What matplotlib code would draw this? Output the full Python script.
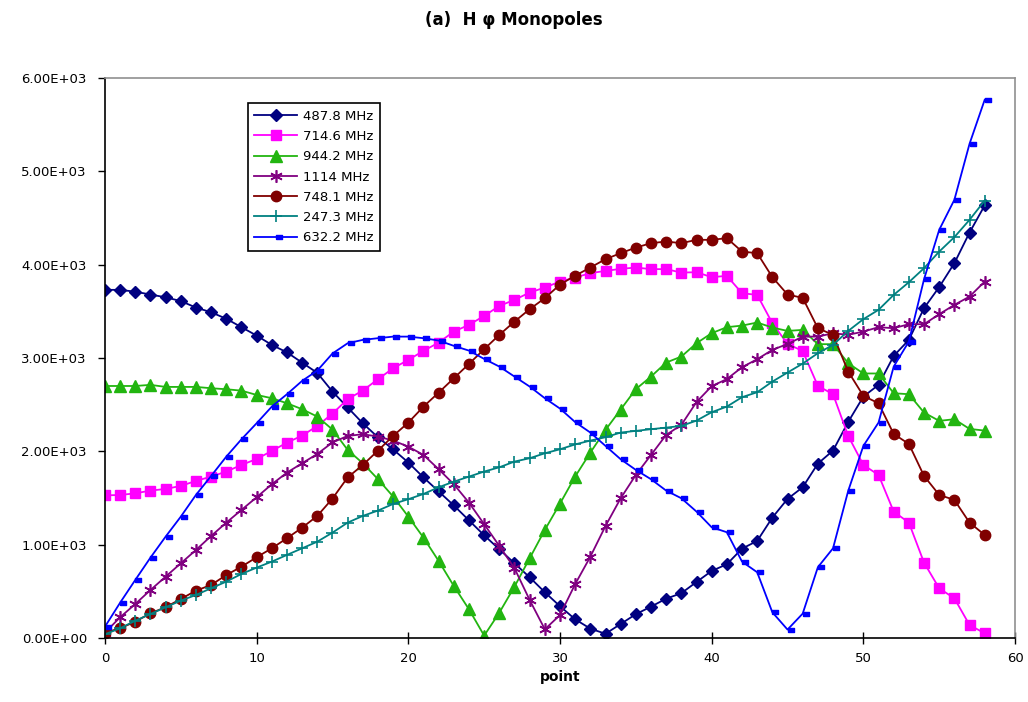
import matplotlib
matplotlib.use('Agg')
from matplotlib import pyplot as plt
from matplotlib.ticker import FuncFormatter, MultipleLocator
import numpy as np

# point index along the scan
points = list(range(59))

f487 = [3730, 3730, 3710, 3680, 3650, 3610, 3540, 3490, 3420, 3330,
        3240, 3140, 3060, 2950, 2840, 2640, 2470, 2300, 2150, 2020,
        1880, 1720, 1570, 1420, 1260, 1100, 950, 800, 650, 490,
        340, 200, 100, 45, 150, 255, 336, 421, 480, 600,
        718, 790, 957, 1040, 1290, 1490, 1615, 1868, 2008, 2315,
        2586, 2712, 3022, 3194, 3534, 3760, 4016, 4344, 4635]
f714 = [1528, 1532, 1550, 1579, 1597, 1629, 1683, 1729, 1783, 1854,
        1918, 2004, 2093, 2168, 2272, 2404, 2560, 2651, 2773, 2890,
        2980, 3076, 3165, 3283, 3355, 3451, 3558, 3623, 3701, 3755,
        3819, 3862, 3909, 3933, 3955, 3969, 3952, 3952, 3915, 3919,
        3866, 3880, 3694, 3676, 3373, 3151, 3074, 2701, 2612, 2165,
        1854, 1747, 1354, 1236, 807, 532, 425, 139, 50]
f944 = [2700, 2700, 2700, 2712, 2690, 2690, 2690, 2676, 2665, 2650,
        2604, 2569, 2515, 2451, 2372, 2233, 2015, 1872, 1701, 1515,
        1300, 1075, 825, 557, 307, 25, 271, 550, 854, 1158,
        1440, 1730, 1986, 2229, 2448, 2666, 2801, 2951, 3015, 3158,
        3266, 3330, 3347, 3380, 3326, 3290, 3301, 3148, 3148, 2944,
        2834, 2834, 2622, 2612, 2415, 2326, 2344, 2240, 2222]
f1114 = [57, 222, 364, 514, 657, 800, 943, 1093, 1236, 1372,
         1508, 1647, 1772, 1872, 1972, 2095, 2165, 2183, 2158, 2115,
         2050, 1961, 1808, 1647, 1450, 1219, 986, 747, 407, 93,
         246, 577, 871, 1200, 1497, 1747, 1961, 2176, 2283, 2528,
         2698, 2774, 2901, 2987, 3087, 3150, 3229, 3229, 3265, 3248,
         3283, 3330, 3319, 3362, 3362, 3469, 3569, 3658, 3819]
f748 = [57, 104, 175, 265, 329, 418, 507, 568, 675, 764,
        865, 961, 1069, 1182, 1308, 1494, 1720, 1854, 2008, 2165,
        2308, 2479, 2629, 2783, 2937, 3094, 3248, 3390, 3523, 3641,
        3787, 3882, 3969, 4059, 4123, 4183, 4230, 4248, 4230, 4266,
        4266, 4284, 4140, 4123, 3866, 3680, 3644, 3319, 3248, 2855,
        2594, 2515, 2186, 2079, 1736, 1533, 1479, 1236, 1104]
f247 = [40, 104, 185, 257, 329, 400, 461, 533, 604, 686,
        754, 818, 890, 961, 1032, 1129, 1236, 1308, 1365, 1436,
        1487, 1543, 1615, 1675, 1729, 1783, 1829, 1890, 1926, 1979,
        2022, 2074, 2115, 2151, 2201, 2219, 2237, 2254, 2272, 2329,
        2419, 2479, 2580, 2633, 2747, 2844, 2940, 3051, 3140, 3290,
        3416, 3516, 3676, 3812, 3962, 4140, 4295, 4480, 4687]
f632 = [121, 378, 622, 861, 1086, 1300, 1533, 1736, 1943, 2129,
        2301, 2479, 2612, 2755, 2865, 3048, 3158, 3194, 3212, 3229,
        3229, 3212, 3187, 3130, 3079, 2990, 2908, 2801, 2694, 2569,
        2458, 2313, 2201, 2058, 1915, 1801, 1701, 1579, 1497, 1354,
        1186, 1133, 818, 704, 275, 90, 261, 758, 961, 1576,
        2058, 2308, 2908, 3176, 3844, 4373, 4695, 5295, 5767]

labels = ['487.8 MHz', '714.6 MHz', '944.2 MHz', '1114 MHz',
          '748.1 MHz', '247.3 MHz', '632.2 MHz']

# dash marker that starts at the point and runs to the right (like excel)
dash = [(0, -0.28), (1, -0.28), (1, 0.28), (0, 0.28), (0, -0.28)]

styles = [
    dict(color='#000080', marker='D', ms=6),
    dict(color='#FF00FF', marker='s', ms=7),
    dict(color='#22B510', marker='^', ms=8),
    dict(color='#800080', marker=(6, 2, 0), ms=9, mew=1.2),
    dict(color='#800000', marker='o', ms=7.5),
    dict(color='#008080', marker='+', ms=9, mew=1.2),
    dict(color='#0000FF', marker=dash, ms=9),
]
series = [f487, f714, f944, f1114, f748, f247, f632]

plt.rcParams['font.family'] = ['DejaVu Sans']
fig = plt.figure(figsize=(10.28, 7.02), dpi=100)
ax = fig.add_axes([0.1021, 0.0912, 0.8853, 0.7977])

for vals, lab, st in zip(series, labels, styles):
    ax.plot(points, vals, lw=1.3, label=lab, **st)

ax.set_xlim(0, 60)
ax.set_ylim(0, 6000)
ax.xaxis.set_major_locator(MultipleLocator(10))
ax.yaxis.set_major_locator(MultipleLocator(1000))
ax.yaxis.set_major_formatter(FuncFormatter(lambda v, p: '%.2E' % v))
ax.tick_params(axis='x', direction='inout', length=8, width=1, labelsize=9.5, pad=6)
ax.tick_params(axis='y', direction='out', length=5, width=1, labelsize=9.5, pad=8)

for s in ['left', 'bottom']:
    ax.spines[s].set_color('black')
    ax.spines[s].set_linewidth(1.2)
for s in ['top', 'right']:
    ax.spines[s].set_color('#909090')
    ax.spines[s].set_linewidth(1.2)

ax.set_xlabel('point', fontsize=10, fontweight='bold', labelpad=4)
fig.text(0.5, 0.972, '(a)  H φ Monopoles', ha='center', va='center',
         fontsize=12, fontweight='bold')

leg = ax.legend(loc='upper left', bbox_to_anchor=(0.157, 0.955), fancybox=False,
                edgecolor='black', framealpha=1, fontsize=9.5, handlelength=3.2,
                borderpad=0.5, labelspacing=0.55, handletextpad=0.5, borderaxespad=0)
leg.get_frame().set_linewidth(1.2)

fig.savefig('out.png', dpi=100)
